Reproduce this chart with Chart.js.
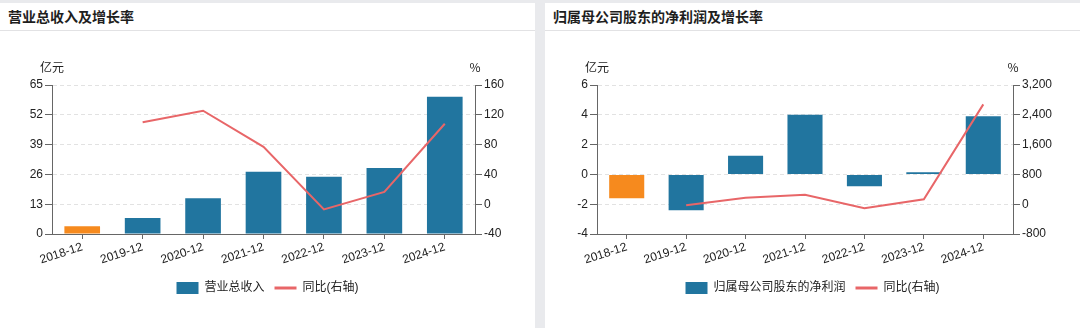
<!DOCTYPE html>
<html lang="zh-CN">
<head>
<meta charset="utf-8">
<title>营业总收入及增长率 · 归属母公司股东的净利润及增长率</title>
<script src="https://cdn.jsdelivr.net/npm/chart.js@4.4.1/dist/chart.umd.min.js"></script>
<style>
    html, body { margin: 0; padding: 0; }
    body {
        width: 1080px; height: 328px; overflow: hidden; position: relative;
        background: #e9eaed;
        font-family: "Liberation Sans", "Noto Sans CJK SC", sans-serif;
    }
    .panel { position: absolute; top: 3px; width: 535px; height: 325px; background: #fff; }
    #panel-rev { left: 0; }
    #panel-np { left: 545px; }
    .panel h3 {
        margin: 0; height: 27px; line-height: 27px; padding-left: 8px;
        font-size: 14px; font-weight: bold; color: #1e1e1e;
        font-family: "Noto Sans CJK SC", sans-serif;
        border-bottom: 1px solid #e2e2e4;
    }
    .panel canvas { display: block; }
</style>
</head>
<body>

<div class="panel" id="panel-rev">
    <h3>营业总收入及增长率</h3>
    <canvas id="rev-chart" width="535" height="297"></canvas>
</div>
<div class="panel" id="panel-np">
    <h3>归属母公司股东的净利润及增长率</h3>
    <canvas id="np-chart" width="535" height="297"></canvas>
</div>

<script>
/* ------------------------------------------------------------------ */
/*  Data (亿元 / %)                                                    */
/* ------------------------------------------------------------------ */

const periods = ['2018-12', '2019-12', '2020-12', '2021-12', '2022-12', '2023-12', '2024-12'];

const revenue = [3.4, 7.0, 15.6, 27.2, 25.0, 28.8, 59.9];
const revenue_yoy = [null, 110, 125.5, 77, -7, 16.4, 108];
const revenue_ticks = { min: 0, max: 65, step: 13 };
const revenue_yoy_ticks = { min: -40, max: 160, step: 40 };

const net_profit = [-1.6, -2.4, 1.25, 4.0, -0.79, 0.15, 3.9];
const net_profit_yoy = [null, -30, 175, 255, -110, 130, 2680];
const net_profit_ticks = { min: -4, max: 6, step: 2 };
const net_profit_yoy_ticks = { min: -800, max: 3200, step: 800 };

/* ------------------------------------------------------------------ */
/*  Shared styling                                                     */
/* ------------------------------------------------------------------ */

const BLUE = '#21759f';
const ORANGE = '#f68a1e';
const RED = '#e86668';
const AXIS = '#666';
const GRID = '#e2e2e2';
const TEXT = '#222';

Chart.defaults.font.family = '"Liberation Sans", "Noto Sans CJK SC", sans-serif';
Chart.defaults.font.size = 12;
Chart.defaults.color = TEXT;

/** Unit captions ("亿元", "%") sitting on top of each y axis line. */
const axisUnits = {
    id: 'axisUnits',
    afterDraw(chart, args, opts) {
        const { ctx, scales, chartArea } = chart;
        ctx.save();
        ctx.font = '12px "Noto Sans CJK SC", sans-serif';
        ctx.fillStyle = TEXT;
        ctx.textAlign = 'center';
        ctx.textBaseline = 'middle';
        ctx.fillText(opts.left, scales.y.right, chartArea.top - 18);
        ctx.fillText(opts.right, scales.y1.left, chartArea.top - 18);
        ctx.restore();
    }
};

function yAxis(position, ticks, width, drawGrid) {
    return {
        position: position,
        min: ticks.min,
        max: ticks.max,
        afterFit: scale => { scale.width = width; },
        ticks: { stepSize: ticks.step, color: TEXT, padding: 2 },
        grid: {
            drawOnChartArea: drawGrid,
            color: GRID,
            tickColor: AXIS,
            tickLength: 7
        },
        border: { color: AXIS, dash: [4, 3] }
    };
}

function buildChart(canvas, barLabel, bars, yoy, barTicks, yoyTicks, rightWidth) {
    return new Chart(canvas, {
        type: 'bar',
        data: {
            labels: periods,
            datasets: [
                {
                    type: 'line',
                    label: '同比(右轴)',
                    data: yoy,
                    yAxisID: 'y1',
                    borderColor: RED,
                    borderWidth: 2,
                    pointRadius: 0,
                    tension: 0,
                    order: 0
                },
                {
                    label: barLabel,
                    data: bars,
                    yAxisID: 'y',
                    backgroundColor: bars.map((v, i) => i === 0 ? ORANGE : BLUE),
                    barPercentage: 0.59,
                    categoryPercentage: 1,
                    order: 1
                }
            ]
        },
        options: {
            responsive: false,
            animation: false,
            devicePixelRatio: 1,
            locale: 'en-US',
            layout: { padding: { top: 54, left: 0, right: 0, bottom: 24 } },
            scales: {
                x: {
                    offset: true,
                    afterFit: scale => { scale.height = 38; },
                    ticks: { color: TEXT, minRotation: 18, maxRotation: 18, padding: 1, autoSkip: false },
                    grid: { drawOnChartArea: false, offset: false, tickColor: AXIS, tickLength: 5 },
                    border: { color: AXIS }
                },
                y: yAxis('left', barTicks, 52, true),
                y1: yAxis('right', yoyTicks, rightWidth, false)
            },
            plugins: {
                tooltip: { enabled: false },
                axisUnits: { left: '亿元', right: '%' },
                legend: {
                    position: 'bottom',
                    labels: {
                        color: TEXT,
                        padding: 10,
                        usePointStyle: true,
                        pointStyleWidth: 22,
                        boxHeight: 12,
                        generateLabels: () => [
                            { text: barLabel, fillStyle: BLUE, strokeStyle: BLUE, lineWidth: 0,
                              pointStyle: 'rect', fontColor: TEXT, datasetIndex: 1 },
                            { text: '同比(右轴)', fillStyle: RED, strokeStyle: RED, lineWidth: 3,
                              pointStyle: 'line', fontColor: TEXT, datasetIndex: 0 }
                        ]
                    }
                }
            }
        },
        plugins: [axisUnits]
    });
}

buildChart(document.getElementById('rev-chart'), '营业总收入',
    revenue, revenue_yoy, revenue_ticks, revenue_yoy_ticks, 60);

buildChart(document.getElementById('np-chart'), '归属母公司股东的净利润',
    net_profit, net_profit_yoy, net_profit_ticks, net_profit_yoy_ticks, 67);
</script>
</body>
</html>
